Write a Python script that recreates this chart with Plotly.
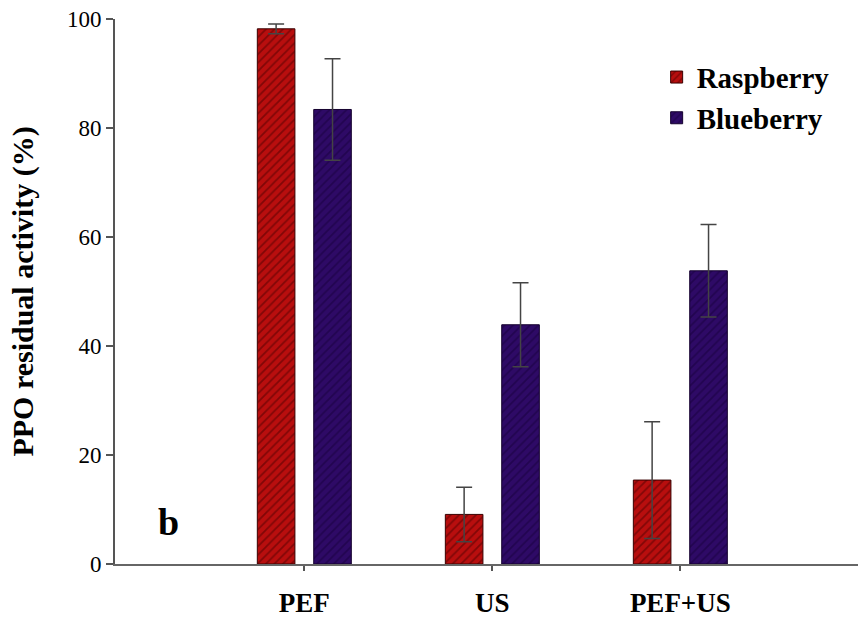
import plotly.graph_objects as go

categories = ["PEF", "US", "PEF+US"]
raspberry = [98.2, 9.1, 15.4]
raspberry_err = [0.9, 5.0, 10.7]
blueberry = [83.4, 43.9, 53.8]
blueberry_err = [9.3, 7.7, 8.5]
y_ticks = [0, 20, 40, 60, 80, 100]

xpos = list(range(len(categories)))

fig = go.Figure()
fig.add_trace(go.Bar(
    x=xpos, y=raspberry, name="Raspberry", width=0.2, offset=-0.25,
    marker=dict(color="#B80E0E", line=dict(color="#3a0000", width=1),
                pattern=dict(shape="/", fgcolor="#4a0000", size=6, solidity=0.3)),
    error_y=dict(type="data", array=raspberry_err, visible=True,
                 color="#444444", thickness=1.5, width=8),
    legendgroup="a",
))
fig.add_trace(go.Bar(
    x=xpos, y=blueberry, name="Blueberry", width=0.2, offset=0.05,
    marker=dict(color="#2E0A66", line=dict(color="#14002e", width=1),
                pattern=dict(shape="/", fgcolor="#16003a", size=6, solidity=0.3)),
    error_y=dict(type="data", array=blueberry_err, visible=True,
                 color="#444444", thickness=1.5, width=8),
    legendgroup="b",
))

fig.add_annotation(x=-0.725, y=7.7, xref="x", yref="y", text="<b>b</b>",
                   showarrow=False,
                   font=dict(family="Liberation Serif", size=38, color="black"))

fig.update_layout(
    width=858, height=618,
    margin=dict(l=115, r=0, t=19, b=54),
    plot_bgcolor="white", paper_bgcolor="white",
    barmode="overlay",
    font=dict(family="Liberation Serif", color="black"),
    legend=dict(x=0.729, y=0.94, xanchor="left", yanchor="top",
                font=dict(family="Liberation Serif", size=29, color="black", weight="bold"),
                tracegroupgap=0, bgcolor="rgba(0,0,0,0)"),
    xaxis=dict(
        range=[-1.007, 2.945], tickvals=xpos, automargin=False,
        ticktext=["<b>%s</b>" % c for c in categories],
        tickfont=dict(family="Liberation Serif", size=27, color="black"),
        ticks="outside", ticklen=5, tickcolor="#555555", tickwidth=1.5,
        showline=True, linecolor="#666666", linewidth=2,
        showgrid=False, zeroline=False, ticklabelstandoff=9,
    ),
    yaxis=dict(
        range=[0, 100], tickvals=y_ticks, automargin=False,
        tickfont=dict(family="Liberation Serif", size=23, color="black"),
        ticks="outside", ticklen=7, tickcolor="#555555", tickwidth=1.5,
        showline=True, linecolor="#555555", linewidth=2,
        showgrid=False, zeroline=False, ticklabelstandoff=0,
        title=dict(text="<b>PPO residual activity (%)</b>",
                   font=dict(family="Liberation Serif", size=30, color="black"),
                   standoff=24),
    ),
)

fig.write_html(
    "out.html",
    config={"displayModeBar": False},
    post_script="document.body.style.margin='0';document.body.style.overflow='hidden';",
)
